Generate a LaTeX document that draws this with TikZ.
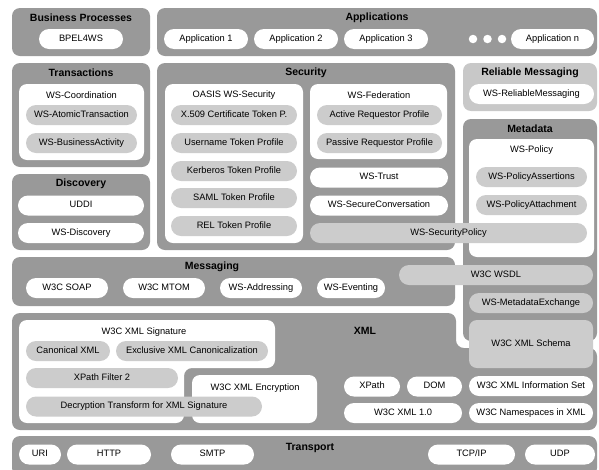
\documentclass[tikz,border=0pt]{standalone}
\usepackage{fontspec}
\setmainfont{Liberation Sans}
\usepackage{xcolor}
\usetikzlibrary{positioning}
\definecolor{boxgray}{RGB}{153,153,153}
\definecolor{pillgray}{RGB}{204,204,204}
\definecolor{relgray}{RGB}{200,200,200}

\begin{document}
\begin{tikzpicture}[x=1pt,y=-1pt,
	layerbox/.style={fill=boxgray, rounded corners=8pt, inner sep=0pt},
	groupbox/.style={fill=white, rounded corners=8pt, inner sep=0pt},
	pill/.style={fill=white, rounded corners=10pt, inner sep=0pt, minimum height=20pt,
		text height=6.8pt, text depth=1.9pt, font=\fontsize{9.3}{11}\selectfont},
	graypill/.style={pill, fill=pillgray},
	layertitle/.style={inner sep=0pt, font=\fontsize{10.5}{12}\selectfont\bfseries},
	boxtext/.style={inner sep=0pt, font=\fontsize{9.3}{11}\selectfont}]
	\clip (0,0) rectangle (599,469);
	\fill[white] (0,0) rectangle (599,469);
	
	% outer layers
	\node[layerbox, minimum width=138, minimum height=48] (bp) at (81,32) {};
	\node[layerbox, minimum width=440, minimum height=48] (apps) at (377,32) {};
	\node[layerbox, minimum width=138, minimum height=104] (trans) at (81,115) {};
	\node[layerbox, minimum width=298, minimum height=187] (sec) at (306,156.5) {};
	\node[layerbox, fill=relgray, minimum width=134, minimum height=48] (relmsg) at (530,87) {};
	\node[layerbox, minimum width=134, minimum height=222] (meta) at (530,230) {};
	\node[layerbox, minimum width=138, minimum height=76] (disc) at (81,212) {};
	\node[layerbox, minimum width=443, minimum height=49] (msg) at (233.5,281.5) {};
	\fill[boxgray, rounded corners=8pt] (12,313) -- (456,313) -- (456,348) -- (597,348)
		-- (597,430) -- (12,430) -- cycle;
	\node[layerbox, minimum width=585, minimum height=40] (transport) at (304.5,456) {};
	
	% titles
	\node[layertitle] (bptitle) at (81,18) {Business Processes};
	\node[layertitle] (appstitle) at (377,18) {Applications};
	\node[layertitle] (transtitle) at (81,73) {Transactions};
	\node[layertitle] (sectitle) at (306,73) {Security};
	\node[layertitle] (relmsgtitle) at (530,73) {Reliable Messaging};
	\node[layertitle] (metatitle) at (530,129) {Metadata};
	\node[layertitle] (disctitle) at (81,184) {Discovery};
	\node[layertitle] (msgtitle) at (212,267) {Messaging};
	\node[layertitle] (xmltitle) at (365,331) {XML};
	\node[layertitle] (transporttitle) at (310,448) {Transport};
	
	% white groups
	\node[groupbox, minimum width=125, minimum height=76] (coord) at (81.5,122) {};
	\node[groupbox, minimum width=138, minimum height=159] (oasis) at (234,163.5) {};
	\node[groupbox, minimum width=137, minimum height=75] (fed) at (378.5,121.5) {};
	\node[groupbox, minimum width=125, minimum height=118] (policy) at (531.5,198) {};
	\fill[white, rounded corners=8pt] (19,320) -- (275,320) -- (275,368) -- (184,368)
		-- (184,423) -- (19,423) -- cycle;
	\node[groupbox, minimum width=125, minimum height=48] (enc) at (254.5,399) {};
	
	\node[boxtext] (coordtext) at (81.5,95) {WS-Coordination};
	\node[boxtext] (oasistext) at (234,95) {OASIS WS-Security};
	\node[boxtext] (fedtext) at (379,95) {WS-Federation};
	\node[boxtext] (policytext) at (531.5,150) {WS-Policy};
	\node[boxtext] (sigtext) at (144,332) {W3C XML Signature};
	\node[boxtext] (enctext) at (255,388) {W3C XML Encryption};
	
	% business processes and applications
	\node[pill, minimum width=84] (bpel) at (81,39) {BPEL4WS};
	\node[pill, minimum width=84] (app1) at (206,39) {Application 1};
	\node[pill, minimum width=84] (app2) at (296,39) {Application 2};
	\node[pill, minimum width=84] (app3) at (386,39) {Application 3};
	\node[circle, fill=white, inner sep=0pt, minimum size=8.5pt] (dot1) at (473,39) {};
	\node[circle, fill=white, inner sep=0pt, minimum size=8.5pt] (dot2) at (487.5,39) {};
	\node[circle, fill=white, inner sep=0pt, minimum size=8.5pt] (dot3) at (502,39) {};
	\node[pill, minimum width=83] (appn) at (552.5,39) {Application n};
	
	% transactions
	\node[graypill, minimum width=111] (atomic) at (81.5,115) {WS-AtomicTransaction};
	\node[graypill, minimum width=111] (business) at (81.5,143) {WS-BusinessActivity};
	
	% security
	\node[graypill, minimum width=126] (x509) at (234,115) {X.509 Certificate Token P.};
	\node[graypill, minimum width=126] (username) at (234,143) {Username Token Profile};
	\node[graypill, minimum width=126] (kerberos) at (234,171) {Kerberos Token Profile};
	\node[graypill, minimum width=126] (saml) at (234,198) {SAML Token Profile};
	\node[graypill, minimum width=126] (rel) at (234,226) {REL Token Profile};
	\node[graypill, minimum width=125] (active) at (379.5,115) {Active Requestor Profile};
	\node[graypill, minimum width=125] (passive) at (379.5,143) {Passive Requestor Profile};
	\node[pill, minimum width=138] (trust) at (379,177.5) {WS-Trust};
	\node[pill, minimum width=138] (secconv) at (379,205.5) {WS-SecureConversation};
	
	% reliable messaging and metadata
	\node[pill, minimum width=125] (wsrm) at (531.5,94) {WS-ReliableMessaging};
	\node[graypill, minimum width=111] (assert) at (531.5,177) {WS-PolicyAssertions};
	\node[graypill, minimum width=111] (attach) at (531.5,205) {WS-PolicyAttachment};
	\node[graypill, minimum width=277] (secpolicy) at (448.5,233) {WS-SecurityPolicy};
	
	% discovery
	\node[pill, minimum width=126] (uddi) at (81,205.5) {UDDI};
	\node[pill, minimum width=126] (wsdisc) at (81,233) {WS-Discovery};
	
	% messaging
	\node[pill, minimum width=82] (soap) at (67,288) {W3C SOAP};
	\node[pill, minimum width=82] (mtom) at (164,288) {W3C MTOM};
	\node[pill, minimum width=82] (addr) at (261,288) {WS-Addressing};
	\node[pill, minimum width=68] (event) at (351,288) {WS-Eventing};
	\node[graypill, minimum width=194] (wsdl) at (496,275) {W3C WSDL};
	\node[graypill, minimum width=124] (mex) at (531,303) {WS-MetadataExchange};
	
	% xml
	\node[graypill, rounded corners=8pt, minimum width=124, minimum height=48] (schema) at (531,344) {W3C XML Schema};
	\node[graypill, minimum width=84] (canon) at (68,351) {Canonical XML};
	\node[graypill, minimum width=152] (exclc14n) at (192,351) {Exclusive XML Canonicalization};
	\node[graypill, minimum width=152] (xpfilter) at (102,378) {XPath Filter 2};
	\node[graypill, minimum width=236] (decrypt) at (144,406.5) {Decryption Transform for XML Signature};
	\node[pill, minimum width=56] (xpath) at (372,386.5) {XPath};
	\node[pill, minimum width=55] (dom) at (434.5,386.5) {DOM};
	\node[pill, minimum width=118] (xml10) at (403,413) {W3C XML 1.0};
	\node[pill, minimum width=124] (infoset) at (531,386) {W3C XML Information Set};
	\node[pill, minimum width=124] (ns) at (531,413) {W3C Namespaces in XML};
	
	% transport
	\node[pill, minimum width=42] (uri) at (40,454.5) {URI};
	\node[pill, minimum width=84] (http) at (109,454.5) {HTTP};
	\node[pill, minimum width=83] (smtp) at (212.5,454.5) {SMTP};
	\node[pill, minimum width=87] (tcpip) at (471.5,454.5) {TCP/IP};
	\node[pill, minimum width=70] (udp) at (560,454.5) {UDP};
\end{tikzpicture}
\end{document}
